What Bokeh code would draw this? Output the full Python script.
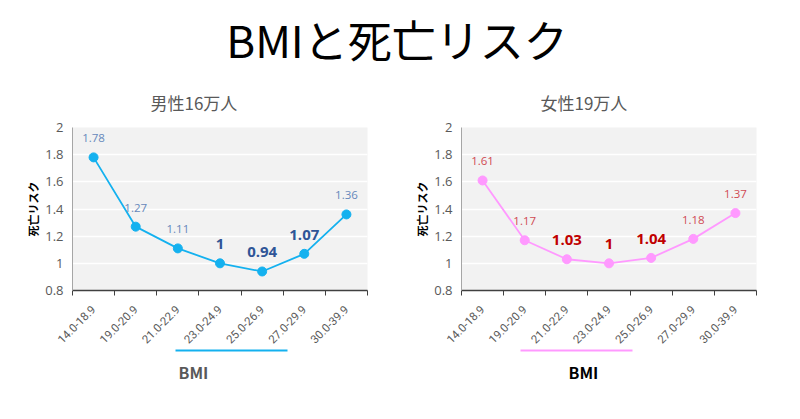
from math import pi
from bokeh.plotting import figure
from bokeh.models import (FixedTicker, CustomJSTickFormatter, LinearAxis, Title, Div,
                          ColumnDataSource, Range1d)
from bokeh.layouts import column, row
from bokeh.core.properties import value
from bokeh.embed import file_html
from bokeh.resources import INLINE

# ---- data ----
categories = ["14.0-18.9", "19.0-20.9", "21.0-22.9", "23.0-24.9", "25.0-26.9", "27.0-29.9", "30.0-39.9"]
men_risk = [1.78, 1.27, 1.11, 1.00, 0.94, 1.07, 1.36]
women_risk = [1.61, 1.17, 1.03, 1.00, 1.04, 1.18, 1.37]
men_labels = ["1.78", "1.27", "1.11", "1", "0.94", "1.07", "1.36"]
women_labels = ["1.61", "1.17", "1.03", "1", "1.04", "1.18", "1.37"]
men_emph = [False, False, False, True, True, True, False]
women_emph = [False, False, True, True, True, False, False]
y_ticks = [0.8, 1.0, 1.2, 1.4, 1.6, 1.8, 2.0]

main_title = "BMIと死亡リスク"
men_title = "男性16万人"
women_title = "女性19万人"
y_label = "死亡リスク"
x_label = "BMI"

JP = "Noto Sans CJK JP"


def make_panel(subtitle, vals, labels, emph, line_color, small_color, big_color,
               bmi_color, border_left, border_right, ul_bounds, title_offset, bmi_offset):
    n = len(categories)
    p = figure(width=392, height=336, x_range=Range1d(0, n), y_range=Range1d(0.8, 2.0),
               output_backend="svg", toolbar_location=None,
               min_border_left=border_left, min_border_right=border_right,
               min_border_top=50, min_border_bottom=121, x_axis_type=None)
    p.background_fill_color = "#f2f2f2"
    p.border_fill_color = "white"
    p.outline_line_color = None

    p.title.text = subtitle
    p.title.align = "left"
    p.title.offset = title_offset
    p.title.standoff = 25
    p.title.text_font = JP
    p.title.text_font_size = "17px"
    p.title.text_font_style = "normal"
    p.title.text_color = "#595959"

    xs = [i + 0.5 for i in range(n)]
    src = ColumnDataSource(dict(
        x=xs, y=vals, lab=labels,
        size=["15px" if e else "11.5px" for e in emph],
        style=["bold" if e else "normal" for e in emph],
        color=[big_color if e else small_color for e in emph],
    ))

    # x axis with category labels and boundary ticks
    xaxis = LinearAxis(
        ticker=FixedTicker(ticks=xs, minor_ticks=list(range(n + 1))),
        formatter=CustomJSTickFormatter(args=dict(labels=categories),
                                        code="return labels[Math.floor(tick)];"),
    )
    xaxis.major_label_orientation = pi / 4
    xaxis.major_tick_out = 0
    xaxis.major_tick_in = 0
    xaxis.minor_tick_out = 5
    xaxis.minor_tick_in = 0
    xaxis.minor_tick_line_color = "#404040"
    xaxis.axis_line_color = "#404040"
    xaxis.axis_line_width = 1.5
    xaxis.major_label_standoff = 12
    xaxis.major_label_text_font = "Roboto"
    xaxis.major_label_text_font_size = "11.5px"
    xaxis.major_label_text_color = "#595959"
    p.add_layout(xaxis, "below")

    # decorative coloured underline above the BMI caption
    ul = LinearAxis(ticker=FixedTicker(ticks=[]), bounds=ul_bounds)
    ul.axis_line_color = line_color
    ul.axis_line_width = 2
    ul.major_tick_out = 0
    ul.major_tick_in = 0
    ul.minor_tick_out = 0
    ul.minor_tick_in = 0
    ul.major_label_text_font_size = "0px"
    p.add_layout(ul, "below")

    p.add_layout(Title(text=x_label, align="left", offset=bmi_offset, standoff=15,
                       text_font=JP, text_font_size="16px", text_font_style="bold",
                       text_color=bmi_color), "below")

    # y axis
    p.yaxis.ticker = FixedTicker(ticks=y_ticks)
    p.yaxis.formatter = CustomJSTickFormatter(code="return String(Number(tick.toFixed(1)));")
    p.yaxis.axis_line_color = "#a6a6a6"
    p.yaxis.major_tick_out = 0
    p.yaxis.major_tick_in = 0
    p.yaxis.minor_tick_out = 0
    p.yaxis.minor_tick_in = 0
    p.yaxis.major_label_standoff = 9
    p.yaxis.major_label_text_font = "Open Sans"
    p.yaxis.major_label_text_font_size = "13px"
    p.yaxis.major_label_text_color = "#595959"
    p.yaxis.axis_label = y_label
    p.yaxis.axis_label_text_font = JP
    p.yaxis.axis_label_text_font_size = "11px"
    p.yaxis.axis_label_text_font_style = "bold"
    p.yaxis.axis_label_text_color = "#000000"
    p.yaxis.axis_label_standoff = 1

    p.xgrid.visible = False
    p.ygrid.ticker = FixedTicker(ticks=y_ticks)
    p.ygrid.grid_line_color = "white"
    p.ygrid.grid_line_width = 1.5

    p.line("x", "y", source=src, line_color=line_color, line_width=1.8)
    p.scatter("x", "y", source=src, size=9, fill_color=line_color, line_color=line_color)
    p.text("x", "y", text="lab", source=src, text_align="center", text_baseline="middle",
           y_offset=-19, text_font=value("Open Sans"), text_font_size="size",
           text_font_style="style", text_color="color")
    return p


p1 = make_panel(men_title, men_risk, men_labels, men_emph, "#14b1ef", "#6688bb", "#2f5597",
                "#595959", 72, 25, (2.44, 5.10), 78, 106)
p2 = make_panel(women_title, women_risk, women_labels, women_emph, "#ff99ff", "#d04a52", "#c00000",
                "#000000", 69, 28, (1.40, 4.06), 79, 107)

head = Div(text=main_title, width=784, height=65,
           styles={"font-family": JP, "font-size": "44px", "font-weight": "normal",
                   "text-align": "center", "width": "784px", "line-height": "68px",
                   "color": "#000000"})

layout = column(head, row(p1, p2, spacing=0), spacing=0)
open("out.html", "w").write(file_html(layout, INLINE))
